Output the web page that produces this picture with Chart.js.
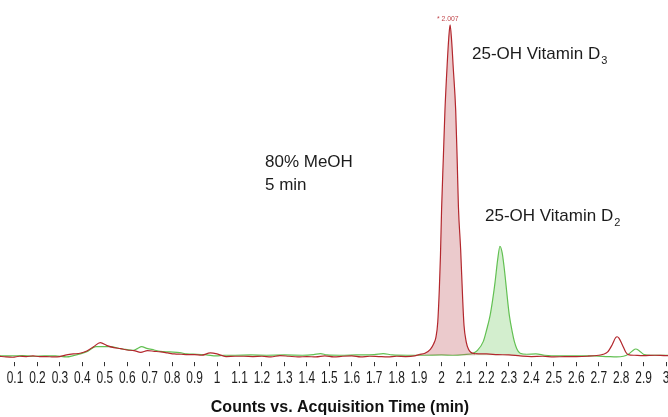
<!DOCTYPE html>
<html>
<head>
<meta charset="utf-8">
<script src="https://cdn.jsdelivr.net/npm/chart.js@4/dist/chart.umd.min.js"></script>
<style>
  html, body { margin: 0; padding: 0; background: #fff; overflow: hidden; }
  #wrap { width: 680px; height: 417px; }
</style>
</head>
<body>
<div id="wrap"><canvas id="chart" width="680" height="417"></canvas></div>
<script>
// 25-OH Vitamin D3 trace (red) and D2 trace (green), relative counts
const d3Times = [0.03, 0.06, 0.09, 0.12, 0.15, 0.18, 0.21, 0.24, 0.27, 0.30, 0.33, 0.36, 0.39, 0.42, 0.45, 0.48, 0.51, 0.54, 0.57, 0.60,
  0.63, 0.66, 0.69, 0.72, 0.75, 0.78, 0.81, 0.84, 0.87, 0.90, 0.93, 0.97, 1.00, 1.04, 1.08, 1.12, 1.16, 1.20, 1.24, 1.28,
  1.32, 1.36, 1.40, 1.44, 1.48, 1.52, 1.56, 1.60, 1.64, 1.68, 1.72, 1.76, 1.80, 1.84, 1.88, 1.90, 1.926, 1.95, 1.965, 1.975,
  1.983, 1.99, 1.995, 2.00, 2.008, 2.015, 2.025, 2.032, 2.038, 2.045, 2.052, 2.063, 2.07, 2.075, 2.085, 2.094, 2.10, 2.11, 2.12, 2.13,
  2.15, 2.20, 2.25, 2.30, 2.35, 2.40, 2.45, 2.50, 2.55, 2.60, 2.65, 2.70, 2.72, 2.74, 2.76, 2.775, 2.782, 2.79, 2.805, 2.82,
  2.832, 2.86, 2.90, 2.95, 3.00, 3.06];
const d3Counts = [-0.3, -0.5, -0.6, -0.3, -0.4, -0.2, -0.4, -0.4, -0.5, -0.4, 0.1, 0.4, 0.6, 1.3, 2.6, 3.8, 2.9, 2.3, 2.0, 1.6,
  1.4, 0.9, 1.4, 1.2, 1.0, 0.7, 0.4, 0.3, 0.2, 0.2, 0.0, 0.7, 0.4, -0.4, -0.3, -0.3, -0.4, -0.3, -0.5, -0.1,
  -0.3, -0.5, -0.4, -0.5, -0.2, -0.5, -0.3, -0.2, -0.5, -0.3, -0.4, -0.5, -0.3, -0.4, -0.2, 0.2, 0.6, 1.8, 3.5, 5.5,
  10, 20, 30, 44, 60, 74, 88, 96, 100, 95, 87, 74, 58, 45, 32, 17, 9, 4, 1.8, 0.9,
  0.5, 0.4, 0.2, 0.1, -0.2, -0.4, -0.3, -0.5, -0.4, -0.4, -0.3, 0.0, 0.3, 1.0, 3.2, 5.3, 5.6, 5.2, 3.2, 1.0,
  0.2, 0.0, -0.1, 0.0, -0.1, 0.0];

const d2Times = [0.03, 0.08, 0.13, 0.18, 0.23, 0.28, 0.33, 0.36, 0.39, 0.42, 0.46, 0.52, 0.58, 0.627, 0.645, 0.664, 0.687, 0.72, 0.746, 0.79,
  0.834, 0.865, 0.91, 0.953, 0.997, 1.03, 1.08, 1.15, 1.22, 1.30, 1.38, 1.43, 1.46, 1.49, 1.55, 1.62, 1.70, 1.74, 1.78, 1.85,
  1.92, 2.00, 2.05, 2.10, 2.14, 2.16, 2.186, 2.20, 2.216, 2.228, 2.238, 2.25, 2.26, 2.27, 2.278, 2.286, 2.295, 2.302, 2.315, 2.324,
  2.335, 2.35, 2.38, 2.42, 2.46, 2.52, 2.60, 2.68, 2.74, 2.78, 2.81, 2.83, 2.85, 2.865, 2.88, 2.902, 2.93, 3.00, 3.06];
const d2Counts = [-0.2, -0.2, -0.1, -0.3, -0.2, -0.2, -0.5, -0.1, 0.4, 1.1, 2.6, 2.6, 1.9, 1.5, 2.0, 2.6, 2.1, 1.6, 1.2, 1.0,
  0.8, 0.4, 0.3, 0.1, -0.2, 0.0, 0.0, 0.1, 0.0, 0.1, 0.0, 0.2, 0.5, 0.1, 0.0, 0.1, 0.2, 0.5, 0.1, 0.0,
  0.0, 0.1, 0.0, 0.2, 0.6, 1.5, 4.2, 7.5, 12, 17, 22, 29, 33, 31, 27, 22, 16, 12, 7, 4.2,
  2, 0.6, 0.3, 0.4, 0.0, -0.2, -0.2, -0.2, -0.4, -0.5, -0.3, 0.2, 1.3, 1.9, 1.4, 0.2, 0.0, 0.0, 0.0];

const tickValues = [0.1, 0.2, 0.3, 0.4, 0.5, 0.6, 0.7, 0.8, 0.9, 1, 1.1, 1.2, 1.3, 1.4, 1.5, 1.6, 1.7, 1.8, 1.9, 2,
  2.1, 2.2, 2.3, 2.4, 2.5, 2.6, 2.7, 2.8, 2.9, 3];

// time windows where the peak area is shaded
const d3FillRange = [1.90, 2.15];
const d2FillRange = [2.10, 2.40];

const RED = "#b3272d";
const GREEN = "#62c052";

function toPoints(times, counts) {
  return times.map((t, i) => ({ x: t, y: counts[i] }));
}

function fillIn(range, color) {
  return (ctx) => (ctx.p0.parsed.x >= range[0] && ctx.p1.parsed.x <= range[1]) ? color : "rgba(0,0,0,0)";
}

function tickText(v) {
  return Math.abs(v - Math.round(v)) < 1e-6 ? String(Math.round(v)) : v.toFixed(1);
}

// tick labels in the original are a tall condensed face: draw them squeezed
const condensedTicks = {
  id: "condensedTicks",
  afterDraw(chart) {
    const c = chart.ctx;
    const xs = chart.scales.x;
    c.save();
    c.fillStyle = "#1c1c1c";
    c.font = "17px 'Liberation Sans', Arial, sans-serif";
    c.textAlign = "center";
    c.textBaseline = "alphabetic";
    tickValues.forEach((v) => {
      const px = xs.getPixelForValue(v);
      c.save();
      c.translate(px, 383);
      c.scale(0.7, 1);
      c.fillText(tickText(v), 0, 0);
      c.restore();
    });
    c.restore();
  },
};

const labelsPlugin = {
  id: "peakLabels",
  afterDatasetsDraw(chart) {
    const c = chart.ctx;
    c.save();
    c.fillStyle = "#1c1c1c";
    c.textBaseline = "alphabetic";
    c.font = "17px 'Liberation Sans', Arial, sans-serif";
    c.fillText("80% MeOH", 265, 167);
    c.fillText("5 min", 265, 190);

    const main = "25-OH Vitamin D";
    c.fillText(main, 472, 59);
    const w = c.measureText(main).width;
    c.fillText(main, 485, 221);
    c.font = "11px 'Liberation Sans', Arial, sans-serif";
    c.fillText("3", 472 + w + 1, 64);
    c.fillText("2", 485 + w + 1, 226);

    c.fillStyle = "#c0464b";
    c.font = "8px 'Liberation Sans', sans-serif";
    c.save();
    c.translate(437, 21);
    c.scale(0.85, 1);
    c.fillText("* 2.007", 0, 0);
    c.restore();
    c.restore();
  },
};

new Chart(document.getElementById("chart"), {
  type: "line",
  data: {
    datasets: [
      {
        label: "25-OH Vitamin D3",
        data: toPoints(d3Times, d3Counts),
        borderColor: RED,
        borderWidth: 1.2,
        backgroundColor: "rgba(0,0,0,0)",
        fill: "origin",
        pointRadius: 0,
        cubicInterpolationMode: "monotone",
        segment: { backgroundColor: fillIn(d3FillRange, "rgba(192, 90, 95, 0.32)") },
        order: 0,
      },
      {
        label: "25-OH Vitamin D2",
        data: toPoints(d2Times, d2Counts),
        borderColor: GREEN,
        borderWidth: 1.2,
        backgroundColor: "rgba(0,0,0,0)",
        fill: "origin",
        pointRadius: 0,
        cubicInterpolationMode: "monotone",
        segment: { backgroundColor: fillIn(d2FillRange, "rgba(130, 205, 115, 0.35)") },
        order: 1,
      },
    ],
  },
  options: {
    responsive: false,
    animation: false,
    layout: { padding: { top: 8, left: 0, right: 0, bottom: 0 } },
    plugins: { legend: { display: false }, tooltip: { enabled: false } },
    scales: {
      x: {
        type: "linear",
        min: 0.0332,
        max: 3.062,
        afterBuildTicks: (scale) => { scale.ticks = tickValues.map((v) => ({ value: v })); },
        border: { display: false },
        grid: { drawOnChartArea: false, drawTicks: true, tickLength: 4, color: "#333" },
        ticks: {
          autoSkip: false,
          maxRotation: 0,
          padding: 2,
          color: "rgba(0,0,0,0)",
          font: { family: "'Liberation Sans', sans-serif", size: 8 },
          callback: (v) => tickText(v),
        },
        title: {
          display: true,
          text: "Counts vs. Acquisition Time (min)",
          color: "#111",
          font: { family: "'Liberation Sans', Arial, sans-serif", size: 16, weight: "bold" },
          padding: { top: 18, bottom: 0 },
        },
      },
      y: { display: false, min: -2.1, max: 105.1 },
    },
  },
  plugins: [labelsPlugin, condensedTicks],
});
</script>
</body>
</html>
